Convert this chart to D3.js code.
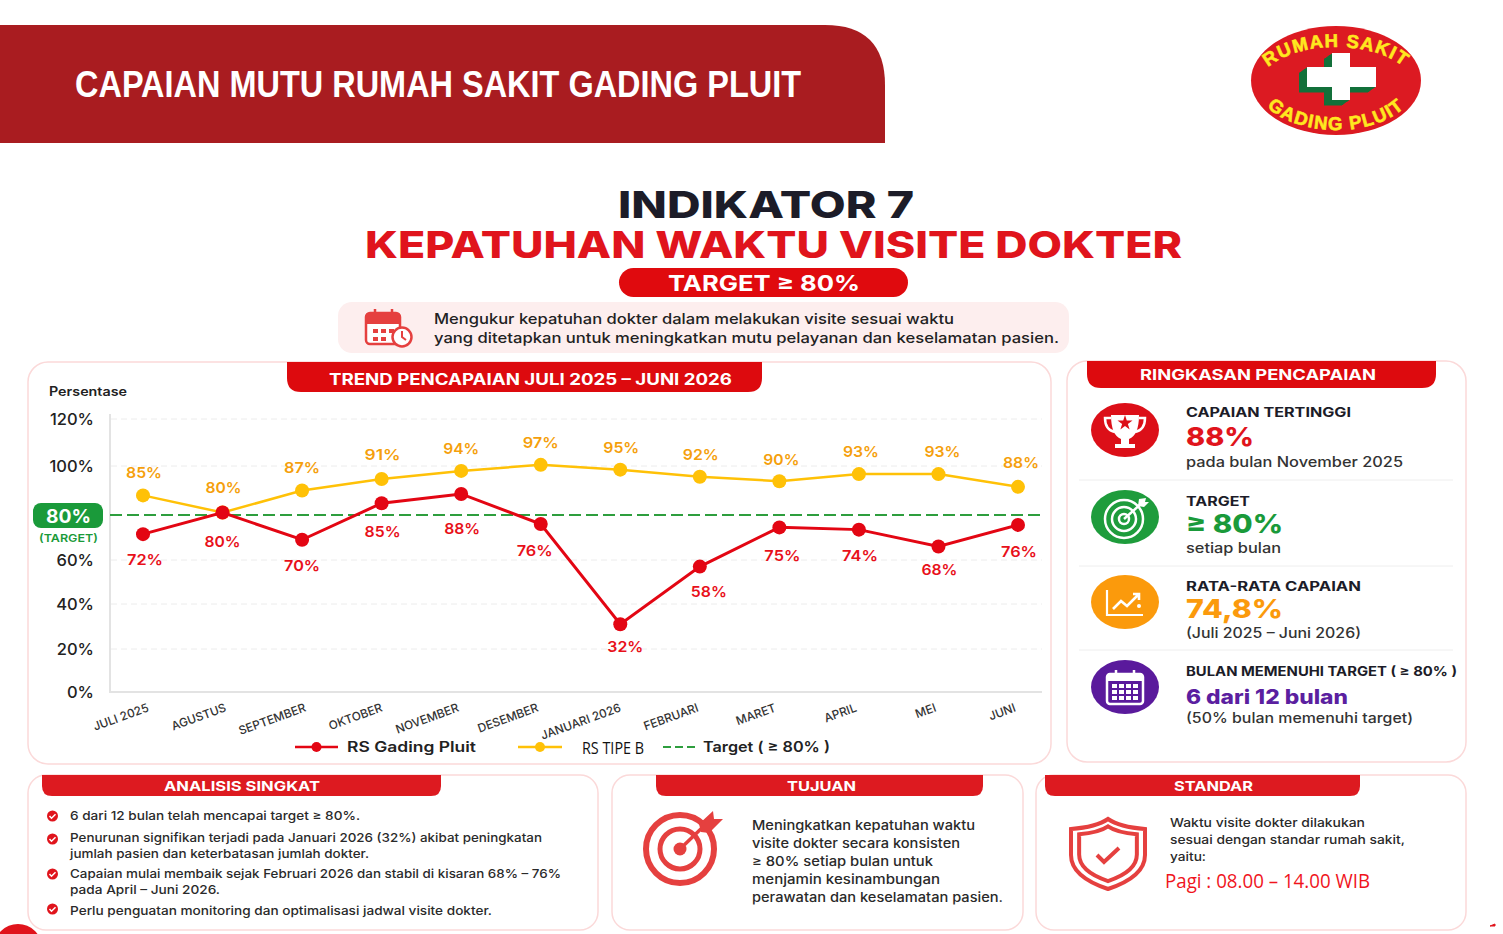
<!DOCTYPE html>
<html><head><meta charset="utf-8">
<script src="https://cdn.jsdelivr.net/npm/d3@7/dist/d3.min.js"></script>
<style>html,body{margin:0;padding:0;background:#fff}svg{display:block}</style>
</head><body><svg id="c" width="1503" height="934"></svg>
<script>
const months=["JULI 2025","AGUSTUS","SEPTEMBER","OKTOBER","NOVEMBER","DESEMBER","JANUARI 2026","FEBRUARI","MARET","APRIL","MEI","JUNI"];
const gadingLabels=[72,80,70,85,88,76,32,58,75,74,68,76];
const tipeBLabels=[85,80,87,91,94,97,95,92,90,93,93,88];
// the printed labels and the drawn marks differ in the picture, so each is read separately
const gadingPlotted=[71.5,81,69,84.8,88.6,76,31,57,74.5,73.5,66,75.6];
const tipeBPlotted=[88,81,90,94.7,98,100.5,98.5,95.6,93.8,96.7,96.7,91.5];
const targetValue=80;
const yTickValues=[0,20,40,60,100,120];
const yGridValues=[20,40,60,100,120];
const yScaleStops=[0,20,40,60,80,100,120];

const F="Inter,'Open Sans',sans-serif";
const svg=d3.select("#c");
function T(x,y,s,size,weight,fill,x2,anchor,font){
  const t=svg.append("text").attr("x",x).attr("y",y).text(s).attr("font-size",size)
   .attr("font-weight",weight).attr("fill",fill).attr("font-family",font||F);
  if(anchor)t.attr("text-anchor",anchor);
  if(x2)t.attr("textLength",x2-x).attr("lengthAdjust","spacingAndGlyphs");
  return t;
}
function card(x,y,w,h,r){svg.append("rect").attr("x",x).attr("y",y).attr("width",w).attr("height",h).attr("rx",r).attr("fill","#fff").attr("stroke","#fbd9d9").attr("stroke-width",1.5);}
function tab(x1,x2,y1,y2,r,fill){svg.append("path").attr("fill",fill).attr("d",`M${x1},${y1}H${x2}V${y2-r}Q${x2},${y2} ${x2-r},${y2}H${x1+r}Q${x1},${y2} ${x1},${y2-r}Z`);}

// header
svg.append("path").attr("fill","#a91c20").attr("d","M0,25H825Q885,25 885,85V143H0Z");
T(75,97,"CAPAIAN MUTU RUMAH SAKIT GADING PLUIT",36,700,"#fff",801,null,"'Liberation Sans'");

// logo
svg.append("ellipse").attr("cx",1336).attr("cy",80.5).attr("rx",85).attr("ry",54.5).attr("fill","#dc1a22");
const crossPath=(dx,dy)=>`M${1332+dx},${53+dy}H${1350+dx}V${67+dy}H${1376+dx}V${87+dy}H${1350+dx}V${100+dy}H${1332+dx}V${87+dy}H${1307+dx}V${67+dy}H${1332+dx}Z`;
d3.range(8,0,-1).forEach(k=>svg.append("path").attr("d",crossPath(-k,k*0.7)).attr("fill","#13703a"));
svg.append("path").attr("d",crossPath(0,0)).attr("fill","#fff");
const defs=svg.append("defs");
defs.append("path").attr("id","arcTop").attr("d","M1256,90A80,43 0 0 1 1416,90");
defs.append("path").attr("id","arcBot").attr("d","M1254,80A82,50 0 0 0 1418,80");
[["#arcTop","RUMAH SAKIT"],["#arcBot","GADING PLUIT"]].forEach(([h,s])=>{
 svg.append("text").attr("font-family","'Liberation Sans'").attr("font-weight",700).attr("font-size",18.5).attr("fill","#ffe81f").attr("stroke","#ffe81f").attr("stroke-width",.6).attr("letter-spacing",1.3)
  .append("textPath").attr("href",h).attr("startOffset","50%").attr("text-anchor","middle").text(s);});

// headings
T(618,218,"INDIKATOR 7",37,800,"#1c1c28",914);
T(365,258,"KEPATUHAN WAKTU VISITE DOKTER",37,800,"#e0141c",1182);
svg.append("rect").attr("x",619).attr("y",268).attr("width",289).attr("height",29).attr("rx",14.5).attr("fill","#e00a0e");
T(668,291,"TARGET ≥ 80%",21.5,700,"#fff",860);
svg.append("rect").attr("x",338).attr("y",302).attr("width",731).attr("height",51).attr("rx",14).attr("fill","#fdeeee");
T(434,323.5,"Mengukur kepatuhan dokter dalam melakukan visite sesuai waktu",14.5,500,"#222",954);
T(434,343,"yang ditetapkan untuk meningkatkan mutu pelayanan dan keselamatan pasien.",14.5,500,"#222",1059);
// calendar+clock icon
const ic=svg.append("g").attr("fill","none").attr("stroke","#e5403f").attr("stroke-width",2.5);
ic.append("rect").attr("x",366).attr("y",313).attr("width",34).attr("height",31).attr("rx",4).attr("fill","#fff");
svg.append("path").attr("d","M366,317q0,-4 4,-4h26q4,0 4,4v7h-34z").attr("fill","#e5403f");
ic.append("path").attr("d","M375,309v7M392,309v7");
[[373,329],[381,329],[389,329],[373,337],[381,337]].forEach(p=>svg.append("rect").attr("x",p[0]).attr("y",p[1]).attr("width",5).attr("height",4).attr("fill","#e5403f"));
ic.append("circle").attr("cx",402).attr("cy",337).attr("r",9.5).attr("fill","#fff");
ic.append("path").attr("d","M402,331v6l4,3").attr("stroke-width",2);

// chart card
card(28,362,1023,402,20);
tab(287,762,362,392,14,"#dd0a0e");
T(329,384.5,"TREND PENCAPAIAN JULI 2025 – JUNI 2026",15.5,700,"#fff",732);
T(49,396,"Persentase",12.5,600,"#222",127);

const y=d3.scaleLinear().domain(yScaleStops).range([692,649,604,560,515,466,419]);
const x=d3.scalePoint().domain(months).range([143,1018]);
const xAt=i=>x(months[i]);

svg.append("g").selectAll("line").data(yGridValues).join("line")
  .attr("x1",111).attr("x2",1042).attr("y1",d=>y(d)).attr("y2",d=>y(d))
  .attr("stroke","#ececec").attr("stroke-width",1).attr("stroke-dasharray","6,4");
svg.append("path").attr("d","M110,414V692H1042").attr("fill","none").attr("stroke","#e3e3e3").attr("stroke-width",2);

const yAxis=d3.axisLeft(y).tickValues(yTickValues).tickFormat(d=>d+"%").tickSize(0).tickPadding(17);
const gy=svg.append("g").attr("transform","translate(111,0)").call(yAxis);
gy.select(".domain").remove();
gy.selectAll("text").attr("font-family",F).attr("font-size",16.5).attr("font-weight",500).attr("fill","#222");

const axisLabelDx=[6,4,4,1,-2,-2,1,-1,-3,-2,-2,-2];
const xAxis=d3.axisBottom(x).tickSize(0);
const gx=svg.append("g").attr("transform","translate(0,692)").call(xAxis);
gx.select(".domain").remove();
gx.selectAll("text").attr("font-family",F).attr("font-size",11.8).attr("font-weight",500).attr("fill","#333")
  .attr("text-anchor","end").attr("dy",0).attr("y",0)
  .attr("transform",(d,i)=>`translate(${axisLabelDx[i]},19) rotate(-20)`);

// target
svg.append("line").attr("x1",110).attr("x2",1045).attr("y1",y(targetValue)).attr("y2",y(targetValue))
  .attr("stroke","#2e9e3e").attr("stroke-width",2).attr("stroke-dasharray","12,5");
svg.append("rect").attr("x",33).attr("y",503).attr("width",70).attr("height",25).attr("rx",8).attr("fill","#1a9a3a");
T(46,522.5,"80%",18.5,700,"#fff",91);
T(39,542,"(TARGET)",11,600,"#1a9a3a",98);

// series
const line=d3.line().x((d,i)=>xAt(i)).y(d=>y(d));
function series(vals,color,w){
  svg.append("path").attr("d",line(vals)).attr("fill","none").attr("stroke",color).attr("stroke-width",w);
  svg.append("g").selectAll("circle").data(vals).join("circle").attr("cx",(d,i)=>xAt(i)).attr("cy",d=>y(d)).attr("r",7).attr("fill",color);
}
series(tipeBPlotted,"#ffc107",2.5);
series(gadingPlotted,"#e30613",3);

const tipeBDx=[1,1,0,1,0,0,1,1,2,2,4,3], tipeBDy=[-23,-25,-23,-24,-22,-22,-22,-22,-22,-22,-22,-24];
const gadingDx=[2,0,0,1,1,-6,5,9,3,1,1,1], gadingDy=[25,29,26,28,35,27,22,25,28,26,23,27];
function labels(lab,plot,dx,dy,color){
  svg.append("g").selectAll("text").data(lab).join("text")
   .attr("x",(d,i)=>xAt(i)+dx[i]-18).attr("y",(d,i)=>y(plot[i])+dy[i]).attr("dy",".36em")
   .attr("textLength",36).attr("lengthAdjust","spacingAndGlyphs")
   .attr("font-family",F).attr("font-size",15).attr("font-weight",600).attr("fill",color)
   .text(d=>d+"%");
}
labels(tipeBLabels,tipeBPlotted,tipeBDx,tipeBDy,"#f59f0c");
labels(gadingLabels,gadingPlotted,gadingDx,gadingDy,"#e8101a");

// legend
function lg(x1,x2,c){svg.append("line").attr("x1",x1).attr("x2",x2).attr("y1",747).attr("y2",747).attr("stroke",c).attr("stroke-width",2.5);
 svg.append("circle").attr("cx",(x1+x2)/2).attr("cy",747).attr("r",5).attr("fill",c);}
lg(295,338,"#e30613"); lg(518,562,"#ffc107");
T(347,752,"RS Gading Pluit",14.5,600,"#222",476);
T(582,754,"RS TIPE B",16,400,"#111",644,null,"'Open Sans'");
svg.append("line").attr("x1",663).attr("x2",695).attr("y1",747).attr("y2",747).attr("stroke","#2e9e3e").attr("stroke-width",2).attr("stroke-dasharray","8,4");
T(703,752,"Target ( ≥ 80% )",14.5,600,"#222",830);

// summary card
card(1067,361,399,401,20);
tab(1087,1436,361,388,14,"#dd0a0e");
T(1140,380,"RINGKASAN PENCAPAIAN",14.5,700,"#fff",1376);
const rows=[
 {cy:430,c:"#dc0f18",h:"CAPAIAN TERTINGGI",hx:1351,hy:417,v:"88%",vx:1254,vy:446,vc:"#e0141c",s:"pada bulan November 2025",sx:1403,sy:467,vs:26},
 {cy:517,c:"#1e9c3c",h:"TARGET",hx:1250,hy:506,v:"≥ 80%",vx:1283,vy:533,vc:"#1a9a3a",s:"setiap bulan",sx:1281,sy:553,vs:26},
 {cy:602,c:"#fb9a0c",h:"RATA-RATA CAPAIAN",hx:1361,hy:591,v:"74,8%",vx:1283,vy:618,vc:"#fb9a0c",s:"(Juli 2025 – Juni 2026)",sx:1361,sy:638,vs:26},
 {cy:687,c:"#5a1a9c",h:"BULAN MEMENUHI TARGET ( ≥ 80% )",hx:1457,hy:676,v:"6 dari 12 bulan",vx:1348,vy:704,vc:"#5b1fa0",s:"(50% bulan memenuhi target)",sx:1413,sy:723,vs:19.5}];
rows.forEach(r=>{
 svg.append("ellipse").attr("cx",1125).attr("cy",r.cy).attr("rx",34).attr("ry",27).attr("fill",r.c);
 T(1186,r.hy,r.h,13,700,"#1c1c28",r.hx);
 T(1186,r.vy,r.v,r.vs,800,r.vc,r.vx);
 T(1186,r.sy,r.s,14,500,"#333",r.sx);
});
[480,566,650].forEach(d=>svg.append("line").attr("x1",1079).attr("x2",1453).attr("y1",d).attr("y2",d).attr("stroke","#eeeeee"));
// trophy
const W="#fff";
svg.append("path").attr("fill",W).attr("d","M1111,415h28q0,20 -10,24v5h6v4h-20v-4h6v-5q-10,-4 -10,-24z");
svg.append("path").attr("fill","none").attr("stroke",W).attr("stroke-width",2.5).attr("d","M1111,418h-6q0,12 10,14M1139,418h6q0,12 -10,14");
svg.append("path").attr("fill","#dc0f18").attr("transform","translate(1125,423)").attr("d",d3.symbol(d3.symbolStar,70)());
// target icon (green)
[[19,2.5],[12,2.5],[5,2.5]].forEach(a=>svg.append("circle").attr("cx",1124).attr("cy",519).attr("r",a[0]).attr("fill","none").attr("stroke",W).attr("stroke-width",a[1]));
svg.append("path").attr("d","M1124,519L1142,503").attr("stroke",W).attr("stroke-width",2.5);
svg.append("path").attr("d","M1138,506l1,-7 7,-1 -1,4 4,0 -5,5z").attr("fill",W);
// growth icon
svg.append("path").attr("fill","none").attr("stroke",W).attr("stroke-width",2.2).attr("d","M1107,590V615H1143");
svg.append("path").attr("fill","none").attr("stroke",W).attr("stroke-width",2.6).attr("d","M1113,609L1121,601L1127,606L1139,594M1133,594h6v6");
svg.append("circle").attr("cx",1139).attr("cy",606).attr("r",2).attr("fill",W);
// calendar icon
svg.append("rect").attr("x",1107).attr("y",674).attr("width",36).attr("height",30).attr("rx",3).attr("fill","none").attr("stroke",W).attr("stroke-width",2.5);
svg.append("rect").attr("x",1107).attr("y",674).attr("width",36).attr("height",7).attr("fill",W);
d3.range(3).forEach(r=>d3.range(4).forEach(c=>svg.append("rect").attr("x",1112+c*7).attr("y",684+r*6).attr("width",5).attr("height",4).attr("fill",W)));
svg.append("path").attr("d","M1116,670v7M1134,670v7").attr("stroke",W).attr("stroke-width",2.5);

// decorative corners
svg.append("circle").attr("cx",18).attr("cy",948).attr("r",24).attr("fill","#e0141c");
svg.append("path").attr("d","M1490,926l5,-2 0,2z").attr("fill","#e0141c").attr("stroke","#e0141c");

// analisis
card(28,775,570,155,18);
tab(42,441,775,796,10,"#dd1a20");
T(164,791,"ANALISIS SINGKAT",13.5,700,"#fff",320);
[816,839,874,909].forEach(cy=>{
 svg.append("circle").attr("cx",52.5).attr("cy",cy).attr("r",5.5).attr("fill","#e0141c");
 svg.append("path").attr("d",`M49.5,${cy}l2,2.2 4,-4`).attr("fill","none").attr("stroke","#fff").attr("stroke-width",1.5);
});
[["6 dari 12 bulan telah mencapai target ≥ 80%.",820,360],
 ["Penurunan signifikan terjadi pada Januari 2026 (32%) akibat peningkatan",841.5,542],
 ["jumlah pasien dan keterbatasan jumlah dokter.",857.5,369],
 ["Capaian mulai membaik sejak Februari 2026 dan stabil di kisaran 68% – 76%",877.5,561],
 ["pada April – Juni 2026.",893.5,220],
 ["Perlu penguatan monitoring dan optimalisasi jadwal visite dokter.",914.5,492]
].forEach(l=>T(70,l[1],l[0],12.2,500,"#2a2a2a",l[2]));

// tujuan
card(612,775,411,155,18);
tab(656,983,775,796,10,"#dd1a20");
T(787,791,"TUJUAN",13.5,700,"#fff",856);
[[34,6],[20,5]].forEach(a=>svg.append("circle").attr("cx",680).attr("cy",849).attr("r",a[0]).attr("fill","none").attr("stroke","#e5403f").attr("stroke-width",a[1]));
svg.append("circle").attr("cx",680).attr("cy",849).attr("r",6.5).attr("fill","#e5403f");
svg.append("path").attr("d","M680,849L705,825").attr("stroke","#e5403f").attr("stroke-width",3.5);
svg.append("path").attr("d","M699,824l14,-13 1,8 9,0 -14,14 -8,-1z").attr("fill","#e5403f");
[["Meningkatkan kepatuhan waktu",830,975],["visite dokter secara konsisten",848,960],["≥ 80% setiap bulan untuk",866,933],["menjamin kesinambungan",884,940],["perawatan dan keselamatan pasien.",902,1003]]
 .forEach(l=>T(752,l[1],l[0],13,500,"#2a2a2a",l[2]));

// standar
card(1036,775,430,155,18);
tab(1045,1360,775,796,10,"#dd1a20");
T(1174,791,"STANDAR",13.5,700,"#fff",1253);
const sh=(s)=>`M0,${-34*s}C${10*s},${-27*s} ${24*s},${-25*s} ${37*s},${-24*s}V${2*s}C${37*s},${20*s} ${18*s},${30*s} 0,${36*s}C${-18*s},${30*s} ${-37*s},${20*s} ${-37*s},${2*s}V${-24*s}C${-24*s},${-25*s} ${-10*s},${-27*s} 0,${-34*s}Z`;
svg.append("path").attr("transform","translate(1108,853)").attr("d",sh(1)).attr("fill","none").attr("stroke","#e5403f").attr("stroke-width",4);
svg.append("path").attr("transform","translate(1108,853)").attr("d",sh(.78)).attr("fill","none").attr("stroke","#e5403f").attr("stroke-width",4);
svg.append("path").attr("d","M1097,855l7,7 15,-14").attr("fill","none").attr("stroke","#e5403f").attr("stroke-width",4);
[["Waktu visite dokter dilakukan",827,1365],["sesuai dengan standar rumah sakit,",844,1405],["yaitu:",861,1206]]
 .forEach(l=>T(1170,l[1],l[0],12.2,500,"#2a2a2a",l[2]));
T(1165,888,"Pagi : 08.00 – 14.00 WIB",20,400,"#f0141c",1370,null,"'Open Sans'");
</script></body></html>
